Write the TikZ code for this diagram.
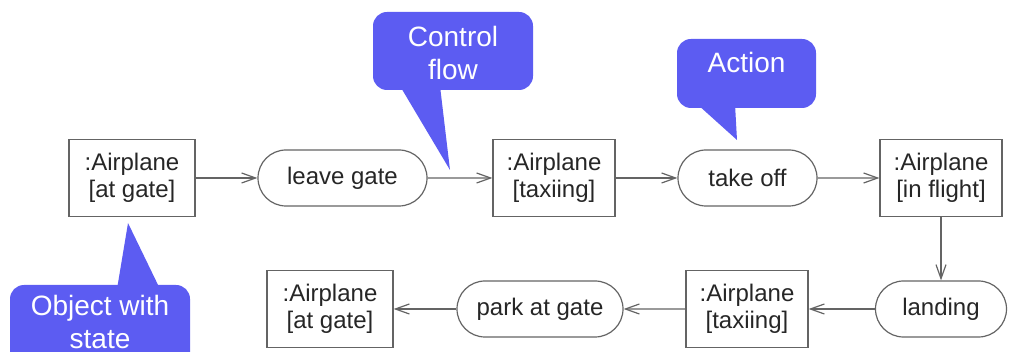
\documentclass[tikz,border=0pt]{standalone}
\usepackage{fontspec}
\setmainfont{Liberation Sans}
\usetikzlibrary{arrows.meta,shapes.misc,positioning}
\definecolor{notefill}{RGB}{92,92,242}
\definecolor{edgegray}{RGB}{100,100,100}

\begin{document}
\begin{tikzpicture}[x=1pt,y=-1pt,
  obj/.style={draw=edgegray,line width=1.2pt,minimum width=122pt,minimum height=77pt,
    inner sep=0pt,align=center,text=black!85,font=\fontsize{24}{27}\selectfont},
  act/.style={rounded rectangle,draw=edgegray,line width=1.2pt,minimum height=56pt,
    inner sep=0pt,text=black!85,font=\fontsize{24}{27}\selectfont},
  flow/.style={draw=edgegray,line width=1.2pt,
    -{Straight Barb[length=14pt,width=10pt,line width=1.2pt]}},
  note/.style={fill=notefill,rounded corners=14pt},
  notetext/.style={text=white,align=center,font=\fontsize{28}{33}\selectfont}]
%\draw[help lines] (0,0) grid[step=50] (1015,352);
\clip (0,0) rectangle (1015,352);
%
% upper row
\node[obj,minimum width=126pt] (gate1) at (132,178) {:Airplane\\{[at gate]}};
\node[act,minimum width=169pt] (leave) at (342.5,178) {leave gate};
\node[obj] (taxi1) at (554,178) {:Airplane\\{[taxiing]}};
\node[act,minimum width=139pt] (takeoff) at (747.5,178) {take off};
\node[obj] (flight) at (941,178) {:Airplane\\{[in flight]}};
%
% lower row
\node[act,minimum width=131pt] (landing) at (941,309) {landing};
\node[obj] (taxi2) at (747,309) {:Airplane\\{[taxiing]}};
\node[act,minimum width=166pt] (park) at (540,309) {park at gate};
\node[obj,minimum width=126pt] (gate2) at (330,309) {:Airplane\\{[at gate]}};
%
\foreach \a/\b in {gate1/leave,leave/taxi1,taxi1/takeoff,takeoff/flight,
  flight/landing,landing/taxi2,taxi2/park,park/gate2}
\draw[flow] (\a) -- (\b);
%
% callouts
\fill[note] (373,12) rectangle (533,90);
\fill[notefill] (400,86) -- (440,86) -- (450,170) -- cycle;
\node[notetext] (flownote) at (453,53) {Control\\flow};
%
\fill[note] (677,39) rectangle (816,108);
\fill[notefill] (697,104) -- (735,104) -- (737,140) -- cycle;
\node[notetext] (actnote) at (746.5,62) {Action};
%
\fill[note] (10,285) rectangle (190,380);
\fill[notefill] (117,289) -- (160,289) -- (128,223) -- cycle;
\node[notetext] (objnote) at (100,322) {Object with\\state};
%
\end{tikzpicture}
\end{document}
